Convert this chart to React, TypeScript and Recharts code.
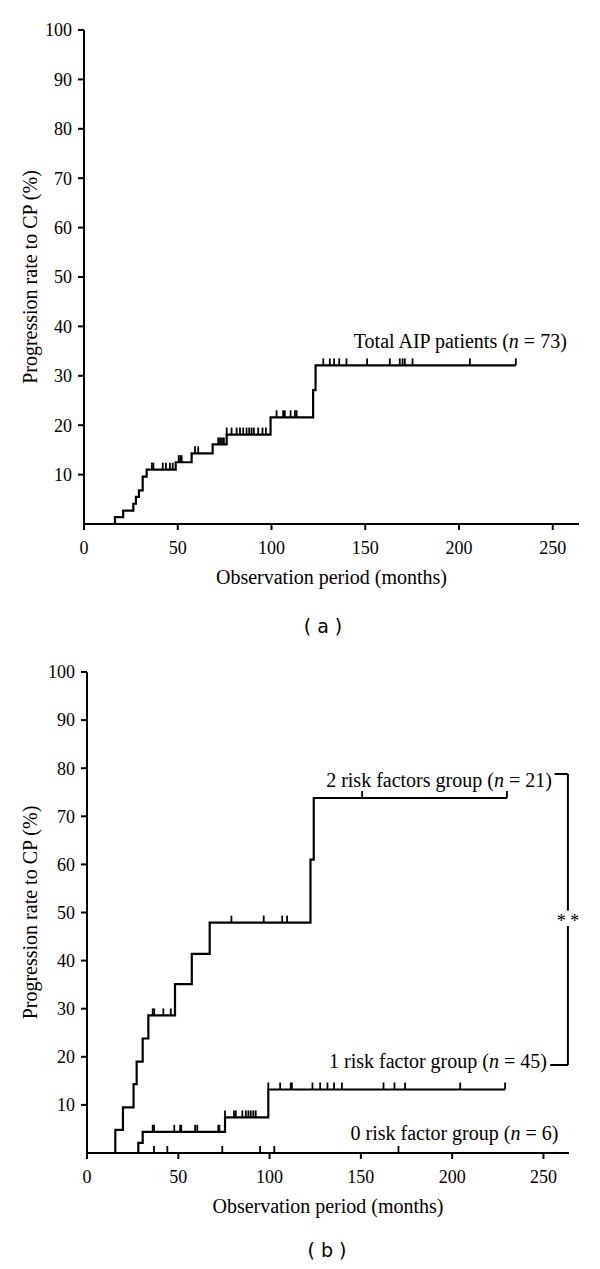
import {
  ComposedChart,
  Line,
  Scatter,
  XAxis,
  YAxis,
  ReferenceDot,
  ReferenceLine,
} from "recharts";

const xTicks = [0, 50, 100, 150, 200, 250];
const yTicks = [10, 20, 30, 40, 50, 60, 70, 80, 90, 100];

// (a) total AIP patients: step times (months) and cumulative rate (%)
const totalTimes = [0, 16.5, 20.9, 26.3, 27.7, 29.3, 31.3, 33.4, 48.9, 57.4, 68.6, 76.1, 99.5, 122.2, 123.5, 230.3];
const totalRates = [0, 1.4, 2.7, 4.1, 5.5, 6.8, 9.6, 11.0, 12.5, 14.3, 16.1, 18.1, 21.6, 27.1, 32.1, 32.1];
const totalCensored = [
  36.2, 37.0, 42.0, 43.7, 45.8, 47.3, 50.5, 51.3, 52.1, 59.2, 60.9, 71.6, 72.6, 73.6, 74.6,
  76.1, 78.7, 81.4, 83.2, 84.9, 86.7, 88.1, 89.4, 90.6, 92.9, 95.2, 97.0,
  102.7, 106.2, 107.1, 110.2, 112.5, 113.4,
  127.6, 131.1, 133.4, 136.1, 140.0, 151.0, 163.1, 168.4, 169.9, 171.1, 175.2, 205.8, 230.3,
];

// (b) by number of risk factors
const twoRiskTimes = [0, 15.5, 19.7, 25.5, 27.2, 30.5, 33.6, 48.2, 57.4, 67.2, 122.4, 124.2, 230];
const twoRiskRates = [0, 4.8, 9.5, 14.3, 19.0, 23.8, 28.6, 35.1, 41.4, 47.9, 61.0, 73.8, 73.8];
const twoRiskCensored = [36.0, 36.8, 41.8, 45.9, 79.1, 96.8, 106.9, 109.6, 150.7, 230];

const oneRiskTimes = [0, 28.1, 30.5, 75.6, 99.3, 229];
const oneRiskRates = [0, 2.1, 4.4, 7.4, 13.2, 13.2];
const oneRiskCensored = [
  36.0, 36.7, 47.8, 51.0, 51.6, 59.2, 60.4, 71.9, 72.5,
  75.6, 80.5, 81.5, 85.1, 87.0, 88.4, 89.7, 91.1, 92.4,
  99.3, 105.8, 111.6, 112.2, 123.5, 127.7, 131.7, 135.3, 139.6, 162.4, 168.4, 174.2, 204.4, 229,
];

const zeroRiskTimes = [0, 170.6];
const zeroRiskRates = [0, 0];
const zeroRiskCensored = [36.7, 44.0, 74.1, 94.8, 102.6, 170.6];

const toPoints = (times: number[], rates: number[]) => times.map((t, i) => ({ t, v: rates[i] }));
const levelAt = (times: number[], rates: number[], t: number) => {
  let v = rates[0];
  times.forEach((tt, i) => {
    if (t >= tt - 0.01) v = rates[i];
  });
  return v;
};
const toCensor = (times: number[], rates: number[], marks: number[]) =>
  marks.map((t) => ({ t, v: levelAt(times, rates, t) }));

const serif = "Liberation Serif";

const CensorMark = (props: any) => {
  const cx = props.cx ?? props.x + (props.width || 0) / 2;
  const cy = props.cy ?? props.y + (props.height || 0) / 2;
  return <line x1={cx} x2={cx} y1={cy} y2={cy - 7} stroke="#000" strokeWidth={1.8} />;
};

const groupLabel = (text: string, n: number) => (props: any) => (
  <text x={props.cx} y={props.cy} textAnchor="end" style={{ fontFamily: serif, fontSize: 20 }} fill="#000">
    {text} (<tspan fontStyle="italic">n</tspan> = {n})
  </text>
);

const XTitle = (props: any) => {
  const vb = props.viewBox;
  return (
    <text x={vb.x + vb.width / 2} y={vb.y + 60} textAnchor="middle" style={{ fontFamily: serif, fontSize: 20 }} fill="#000">
      Observation period (months)
    </text>
  );
};

const YTitle = (props: any) => {
  const vb = props.viewBox;
  const cx = 37;
  const cy = vb.y + vb.height / 2;
  return (
    <text x={cx} y={cy} transform={`rotate(-90, ${cx}, ${cy})`} textAnchor="middle" style={{ fontFamily: serif, fontSize: 20 }} fill="#000">
      Progression rate to CP (%)
    </text>
  );
};

const axisStyle = { stroke: "#000", strokeWidth: 2 };
const tickStyle = { fontSize: 18, fill: "#000", fontFamily: serif };

function KMPanel(props: {
  height: number;
  top: number;
  right: number;
  yWidth: number;
  curves: { times: number[]; rates: number[]; censored: number[] }[];
  children?: any;
}) {
  return (
    <ComposedChart
      width={600}
      height={props.height}
      margin={{ top: props.top, right: props.right, left: 0, bottom: 0 }}
    >
      <XAxis
        dataKey="t"
        type="number"
        domain={[0, 264]}
        ticks={xTicks}
        tick={tickStyle}
        tickSize={6}
        tickMargin={11}
        axisLine={axisStyle}
        tickLine={axisStyle}
        height={76}
        allowDataOverflow
        label={{ content: XTitle }}
      />
      <YAxis
        dataKey="v"
        type="number"
        domain={[0, 100]}
        ticks={yTicks}
        tick={tickStyle}
        tickSize={6}
        tickMargin={6}
        axisLine={axisStyle}
        tickLine={axisStyle}
        width={props.yWidth}
        label={{ content: YTitle }}
      />
      {props.curves.map((c, i) => (
        <Line
          key={"l" + i}
          data={toPoints(c.times, c.rates)}
          dataKey="v"
          type="stepAfter"
          stroke="#000"
          strokeWidth={2.2}
          dot={false}
          activeDot={false}
          isAnimationActive={false}
        />
      ))}
      {props.curves.map((c, i) => (
        <Scatter
          key={"s" + i}
          data={toCensor(c.times, c.rates, c.censored)}
          dataKey="v"
          shape={CensorMark}
          isAnimationActive={false}
        />
      ))}
      {props.children}
    </ComposedChart>
  );
}

const captionStyle: any = {
  position: "absolute",
  width: 100,
  textAlign: "center",
  fontFamily: "DejaVu Sans",
  fontSize: 19,
  lineHeight: "22px",
  color: "#000",
};

export default function App() {
  return (
    <div style={{ position: "absolute", left: 0, top: 0, width: 600, height: 1269, background: "#fff" }}>
      <div style={{ position: "absolute", left: 0, top: 0 }}>
        <KMPanel
          height={600}
          top={30}
          right={21}
          yWidth={84}
          curves={[{ times: totalTimes, rates: totalRates, censored: totalCensored }]}
        >
          <ReferenceDot x={257.5} y={35.6} r={0} shape={groupLabel("Total AIP patients", 73)} />
        </KMPanel>
      </div>
      <div style={{ ...captionStyle, left: 273, top: 615 }}>( a )</div>
      <div style={{ position: "absolute", left: 0, top: 640 }}>
        <KMPanel
          height={589}
          top={32}
          right={31}
          yWidth={87}
          curves={[
            { times: twoRiskTimes, rates: twoRiskRates, censored: twoRiskCensored },
            { times: oneRiskTimes, rates: oneRiskRates, censored: oneRiskCensored },
            { times: zeroRiskTimes, rates: zeroRiskRates, censored: zeroRiskCensored },
          ]}
        >
          <ReferenceDot x={254.6} y={76.1} r={0} shape={groupLabel("2 risk factors group", 21)} />
          <ReferenceDot x={251.9} y={17.6} r={0} shape={groupLabel("1 risk factor group", 45)} />
          <ReferenceDot x={258.2} y={2.7} r={0} shape={groupLabel("0 risk factor group", 6)} />
          <ReferenceLine segment={[{ x: 256.1, y: 78.8 }, { x: 263.4, y: 78.8 }]} stroke="#000" strokeWidth={2} />
          <ReferenceLine segment={[{ x: 263.4, y: 78.8 }, { x: 263.4, y: 50.4 }]} stroke="#000" strokeWidth={2} />
          <ReferenceLine segment={[{ x: 263.4, y: 47.2 }, { x: 263.4, y: 18.3 }]} stroke="#000" strokeWidth={2} />
          <ReferenceLine segment={[{ x: 253.7, y: 18.3 }, { x: 263.4, y: 18.3 }]} stroke="#000" strokeWidth={2} />
          <ReferenceDot
            x={263.4}
            y={48.8}
            r={0}
            shape={(p: any) => (
              <text x={p.cx} y={p.cy + 9} textAnchor="middle" style={{ fontFamily: serif, fontSize: 18 }} fill="#000">
                * *
              </text>
            )}
          />
        </KMPanel>
      </div>
      <div style={{ ...captionStyle, left: 277, top: 1239 }}>( b )</div>
    </div>
  );
}
